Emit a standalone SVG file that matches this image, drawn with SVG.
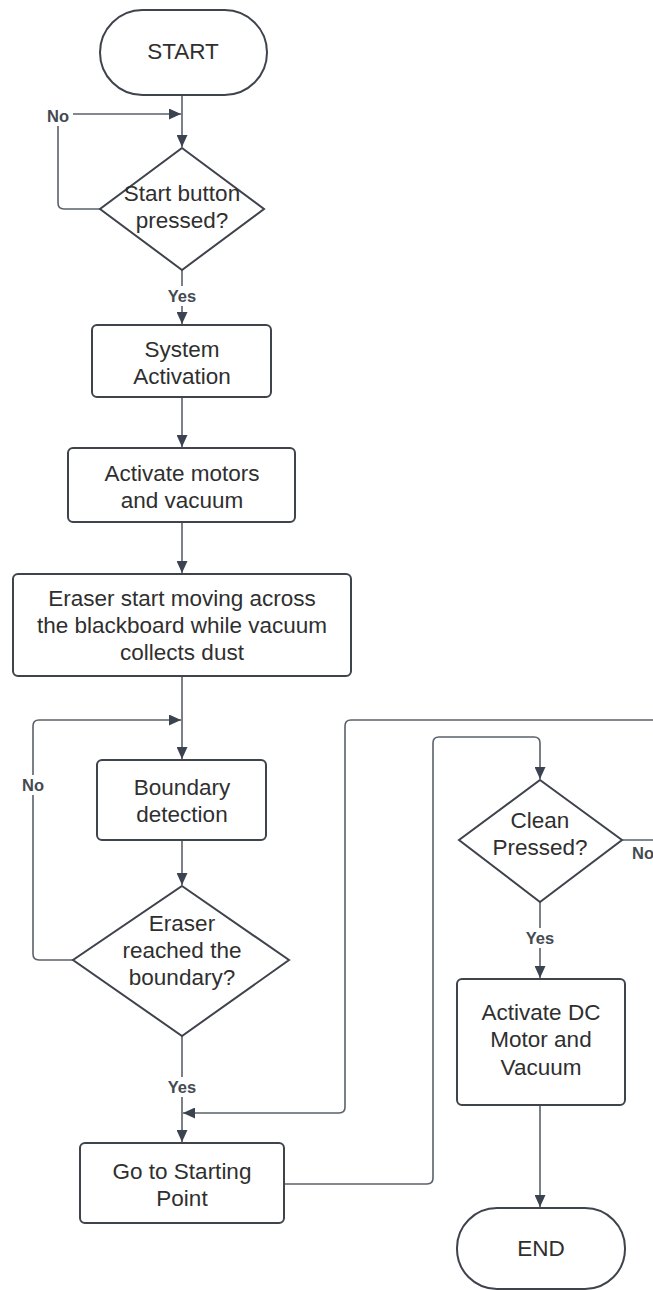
<svg xmlns="http://www.w3.org/2000/svg" width="653" height="1290" viewBox="0 0 653 1290">
  <style>
    .shape { fill: #ffffff; stroke: #3e434c; stroke-width: 2; }
    .txt { font-family: "Liberation Sans", Arial, sans-serif; font-size: 22.5px; fill: #2f2f2f; text-anchor: middle; }
    .lbl { font-family: "Liberation Sans", Arial, sans-serif; font-size: 16.5px; font-weight: bold; fill: #444a52; text-anchor: middle; }
    .conn { fill: none; stroke: #5b606a; stroke-width: 1.6; stroke-linejoin: round; }
    .bg { fill: #ffffff; }
  </style>
  <defs>
    <marker id="arrow" markerUnits="userSpaceOnUse" markerWidth="13" markerHeight="11" refX="12" refY="5.5" orient="auto">
      <path d="M0,0 L12,5.5 L0,11 z" fill="#3b4250"/>
    </marker>
  </defs>
  <rect width="653" height="1290" fill="#ffffff"/>

  <!-- connectors -->
  <g id="connectors">
    <path class="conn" d="M182,95 V147" marker-end="url(#arrow)"/>
    <path class="conn" d="M100,209 H64 Q58,209 58,203 V114 H181" marker-end="url(#arrow)"/>
    <path class="conn" d="M182,270 V324" marker-end="url(#arrow)"/>
    <path class="conn" d="M182,397 V447" marker-end="url(#arrow)"/>
    <path class="conn" d="M182,522 V573" marker-end="url(#arrow)"/>
    <path class="conn" d="M182,676 V759" marker-end="url(#arrow)"/>
    <path class="conn" d="M73,960 H39 Q33,960 33,954 V726 Q33,720 39,720 H181" marker-end="url(#arrow)"/>
    <path class="conn" d="M182,840 V885" marker-end="url(#arrow)"/>
    <path class="conn" d="M182,1036 V1142" marker-end="url(#arrow)"/>
    <path class="conn" d="M622,840 H680 V720 H351 Q345,720 345,726 V1107 Q345,1113 339,1113 H183" marker-end="url(#arrow)"/>
    <path class="conn" d="M284,1184 H427 Q433,1184 433,1178 V743 Q433,737 439,737 H534 Q540,737 540,743 V779" marker-end="url(#arrow)"/>
    <path class="conn" d="M540,902 V978" marker-end="url(#arrow)"/>
    <path class="conn" d="M540,1105 V1207" marker-end="url(#arrow)"/>
  </g>

  <!-- connector labels -->
  <g id="labels">
    <rect class="bg" x="43" y="106" width="30" height="20"/>
    <text class="lbl" x="58" y="122">No</text>
    <rect class="bg" x="166" y="286" width="32" height="20"/>
    <text class="lbl" x="182" y="302">Yes</text>
    <rect class="bg" x="18" y="775" width="30" height="20"/>
    <text class="lbl" x="33" y="791">No</text>
    <rect class="bg" x="166" y="1077" width="32" height="20"/>
    <text class="lbl" x="182" y="1093">Yes</text>
    <rect class="bg" x="524" y="928" width="32" height="20"/>
    <text class="lbl" x="540" y="944">Yes</text>
    <rect class="bg" x="628" y="843" width="28" height="20"/>
    <text class="lbl" x="643" y="859">No</text>
  </g>

  <g id="start">
    <rect class="shape" x="100" y="10" width="167" height="85" rx="42.5"/>
    <text class="txt" x="183" y="59">START</text>
  </g>

  <g id="start-pressed">
    <polygon class="shape" points="182,148 264,209 182,270 100,209"/>
    <text class="txt" x="182" y="201">Start button</text>
    <text class="txt" x="182" y="228">pressed?</text>
  </g>

  <g id="system-activation">
    <rect class="shape" x="92" y="325" width="179" height="72" rx="5"/>
    <text class="txt" x="182" y="357">System</text>
    <text class="txt" x="182" y="384">Activation</text>
  </g>

  <g id="activate-motors">
    <rect class="shape" x="68" y="448" width="227" height="74" rx="5"/>
    <text class="txt" x="182" y="481">Activate motors</text>
    <text class="txt" x="182" y="508">and vacuum</text>
  </g>

  <g id="eraser-moving">
    <rect class="shape" x="13" y="574" width="338" height="102" rx="5"/>
    <text class="txt" x="182" y="606">Eraser start moving across</text>
    <text class="txt" x="182" y="633">the blackboard while vacuum</text>
    <text class="txt" x="182" y="660">collects dust</text>
  </g>

  <g id="boundary-detection">
    <rect class="shape" x="97" y="760" width="169" height="80" rx="5"/>
    <text class="txt" x="182" y="795">Boundary</text>
    <text class="txt" x="182" y="822">detection</text>
  </g>

  <g id="boundary-reached">
    <polygon class="shape" points="182,886 289,960 182,1036 73,960"/>
    <text class="txt" x="182" y="931">Eraser</text>
    <text class="txt" x="182" y="958">reached the</text>
    <text class="txt" x="182" y="985">boundary?</text>
  </g>

  <g id="go-to-start">
    <rect class="shape" x="80" y="1143" width="204" height="80" rx="5"/>
    <text class="txt" x="182" y="1179">Go to Starting</text>
    <text class="txt" x="182" y="1206">Point</text>
  </g>

  <g id="clean-pressed">
    <polygon class="shape" points="540,780 622,840 540,902 459,840"/>
    <text class="txt" x="540" y="828">Clean</text>
    <text class="txt" x="540" y="855">Pressed?</text>
  </g>

  <g id="activate-dc">
    <rect class="shape" x="457" y="979" width="168" height="126" rx="5"/>
    <text class="txt" x="541" y="1020">Activate DC</text>
    <text class="txt" x="541" y="1047">Motor and</text>
    <text class="txt" x="541" y="1075">Vacuum</text>
  </g>

  <g id="end">
    <rect class="shape" x="457" y="1208" width="168" height="81" rx="40"/>
    <text class="txt" x="541" y="1256">END</text>
  </g>
</svg>
